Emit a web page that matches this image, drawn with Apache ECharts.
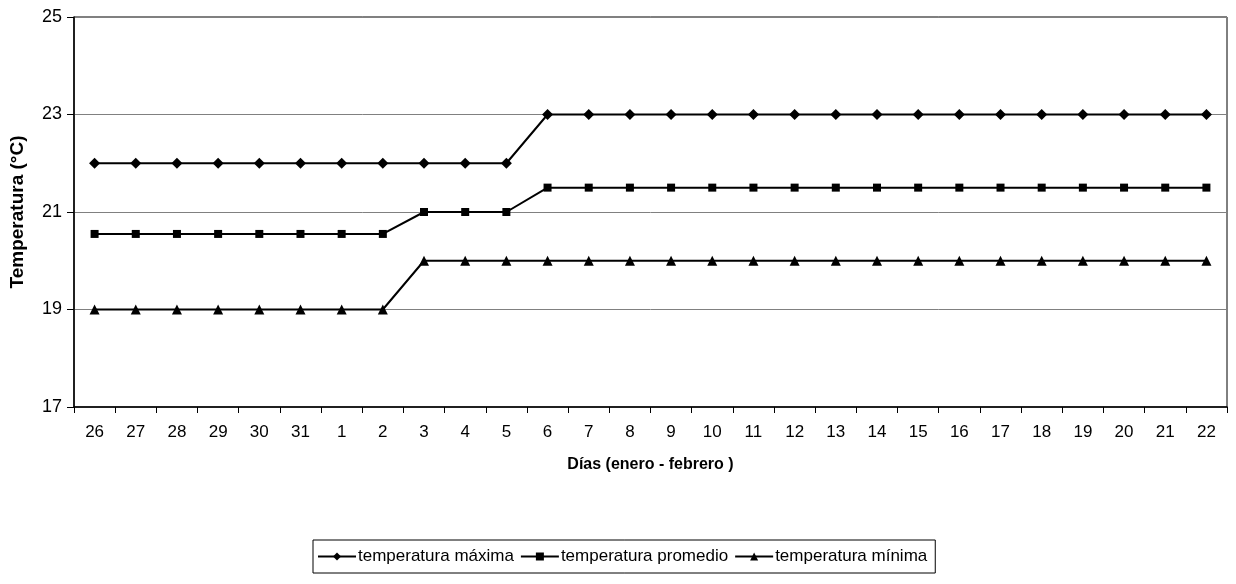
<!DOCTYPE html>
<html><head><meta charset="utf-8">
<script src="https://cdn.jsdelivr.net/npm/echarts@6/dist/echarts.min.js"></script>
<style>html,body{margin:0;padding:0;background:#fff}#c{width:1236px;height:584px}</style>
</head><body><div id="c"></div>
<script>
const categories = ['26','27','28','29','30','31','1','2','3','4','5','6','7','8','9','10','11','12','13','14','15','16','17','18','19','20','21','22'];
const tempMax = [22,22,22,22,22,22,22,22,22,22,22,23,23,23,23,23,23,23,23,23,23,23,23,23,23,23,23,23];
const tempProm = [20.55,20.55,20.55,20.55,20.55,20.55,20.55,20.55,21,21,21,21.5,21.5,21.5,21.5,21.5,21.5,21.5,21.5,21.5,21.5,21.5,21.5,21.5,21.5,21.5,21.5,21.5];
const tempMin = [19,19,19,19,19,19,19,19,20,20,20,20,20,20,20,20,20,20,20,20,20,20,20,20,20,20,20,20];
const yTicks = [17,19,21,23,25];
const seriesNames = ['temperatura máxima','temperatura promedio','temperatura mínima'];

const sans = '"Liberation Sans", Arial, sans-serif';
const chart = echarts.init(document.getElementById('c'), null, {renderer:'canvas'});
function mk(name, data, symbol, size){
  return {name, type:'line', data, symbol, symbolSize:size, showSymbol:true,
    lineStyle:{color:'#000', width:2}, itemStyle:{color:'#000'}, animation:false};
}
chart.setOption({
  animation:false,
  grid:{left:74, right:9, top:17, bottom:177, show:true, borderColor:'#000', borderWidth:1,
    containLabel:false, outerBoundsMode:'none'},
  xAxis:{type:'category', data:categories, boundaryGap:true,
    axisLine:{lineStyle:{color:'#000', width:1.5}},
    axisTick:{show:true, length:6, lineStyle:{color:'#000'}},
    axisLabel:{color:'#000', fontFamily:sans, fontSize:17, margin:17, interval:0},
    name:'Días (enero - febrero )', nameLocation:'middle', nameGap:50,
    nameTextStyle:{color:'#000', fontFamily:sans, fontWeight:'bold', fontSize:16}
  },
  yAxis:{type:'value', min:yTicks[0], max:yTicks[yTicks.length-1], interval:2,
    axisLine:{show:true, lineStyle:{color:'#000', width:1.5}},
    axisTick:{show:true, length:7, lineStyle:{color:'#000'}},
    splitLine:{show:true, lineStyle:{color:'#808080', width:1}},
    axisLabel:{color:'#000', fontFamily:sans, fontSize:18, margin:12},
    name:'Temperatura (°C)', nameLocation:'middle', nameGap:47,
    nameTextStyle:{color:'#000', fontFamily:sans, fontWeight:'bold', fontSize:19}
  },
  legend:{data:seriesNames, left:313, top:540,
    padding:[8,8,8,4], borderColor:'#000', borderWidth:1, itemGap:6, itemWidth:38, itemHeight:10,
    textStyle:{color:'#000', fontFamily:sans, fontSize:17, padding:[0,0,0,-3]}},
  series:[
    mk(seriesNames[0], tempMax, 'diamond', 11),
    mk(seriesNames[1], tempProm, 'rect', 8),
    mk(seriesNames[2], tempMin, 'triangle', 10)
  ]
});
</script></body></html>
